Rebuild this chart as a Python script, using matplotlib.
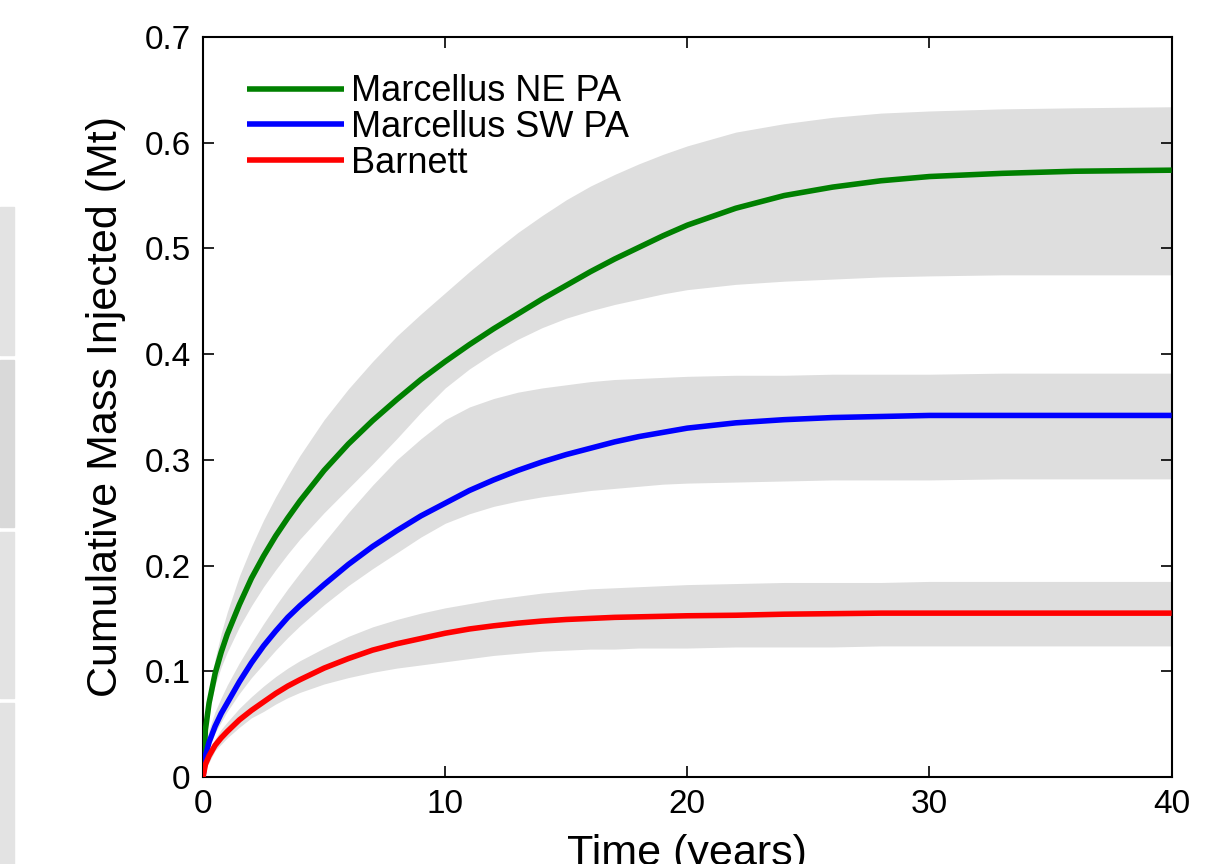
import matplotlib
matplotlib.use("Agg")
import matplotlib.pyplot as plt
from matplotlib.patches import Rectangle

plt.rcParams['font.family'] = ['Liberation Sans', 'DejaVu Sans']

# time axis (years)
t = [0, 0.1, 0.25, 0.5, 0.75, 1, 1.5, 2, 2.5, 3, 3.5, 4,
     5, 6, 7, 8, 9, 10, 11, 12, 13, 14, 15, 16,
     17, 18, 19, 20, 22, 24, 26, 28, 30, 33, 36, 40]

# Marcellus NE PA: mean and range
ne_mid = [0, 0.045, 0.070, 0.098, 0.118, 0.135, 0.163, 0.188, 0.209, 0.228, 0.245, 0.261,
          0.290, 0.315, 0.337, 0.357, 0.376, 0.393, 0.409, 0.424, 0.438, 0.452, 0.465, 0.478,
          0.490, 0.501, 0.512, 0.522, 0.538, 0.550, 0.558, 0.564, 0.568, 0.571, 0.573, 0.574]
ne_hi = [0, 0.050, 0.080, 0.112, 0.136, 0.156, 0.190, 0.218, 0.243, 0.265, 0.285, 0.304,
         0.338, 0.367, 0.393, 0.417, 0.438, 0.458, 0.478, 0.497, 0.515, 0.531, 0.546, 0.559,
         0.570, 0.580, 0.589, 0.597, 0.610, 0.618, 0.624, 0.628, 0.630, 0.632, 0.633, 0.634]
ne_lo = [0, 0.040, 0.062, 0.087, 0.104, 0.118, 0.142, 0.162, 0.180, 0.196, 0.211, 0.225,
         0.250, 0.273, 0.296, 0.320, 0.345, 0.368, 0.386, 0.401, 0.414, 0.425, 0.434, 0.441,
         0.447, 0.452, 0.457, 0.461, 0.466, 0.469, 0.471, 0.473, 0.474, 0.475, 0.475, 0.475]

# Marcellus SW PA
sw_mid = [0, 0.020, 0.033, 0.048, 0.060, 0.070, 0.090, 0.108, 0.124, 0.138, 0.151, 0.162,
          0.182, 0.201, 0.218, 0.233, 0.247, 0.259, 0.271, 0.281, 0.290, 0.298, 0.305, 0.311,
          0.317, 0.322, 0.326, 0.330, 0.335, 0.338, 0.340, 0.341, 0.342, 0.342, 0.342, 0.342]
sw_hi = [0, 0.030, 0.045, 0.062, 0.075, 0.087, 0.108, 0.127, 0.145, 0.162, 0.178, 0.193,
         0.222, 0.250, 0.276, 0.300, 0.320, 0.338, 0.350, 0.358, 0.364, 0.368, 0.371, 0.374,
         0.376, 0.377, 0.378, 0.379, 0.380, 0.380, 0.381, 0.381, 0.381, 0.382, 0.382, 0.382]
sw_lo = [0, 0.017, 0.028, 0.042, 0.052, 0.062, 0.079, 0.094, 0.107, 0.120, 0.132, 0.143,
         0.163, 0.181, 0.197, 0.212, 0.227, 0.240, 0.249, 0.256, 0.261, 0.265, 0.268, 0.271,
         0.273, 0.275, 0.277, 0.278, 0.279, 0.280, 0.281, 0.281, 0.281, 0.282, 0.282, 0.282]

# Barnett
ba_mid = [0, 0.012, 0.020, 0.030, 0.037, 0.043, 0.054, 0.063, 0.071, 0.079, 0.086, 0.092,
          0.103, 0.112, 0.120, 0.126, 0.131, 0.136, 0.140, 0.143, 0.1455, 0.1475, 0.149, 0.150,
          0.151, 0.1515, 0.152, 0.1525, 0.153, 0.154, 0.1545, 0.155, 0.155, 0.155, 0.155, 0.155]
ba_hi = [0, 0.015, 0.025, 0.036, 0.045, 0.052, 0.065, 0.076, 0.086, 0.095, 0.103, 0.110,
         0.122, 0.133, 0.142, 0.149, 0.155, 0.160, 0.164, 0.168, 0.171, 0.174, 0.176, 0.178,
         0.179, 0.180, 0.181, 0.182, 0.183, 0.184, 0.184, 0.184, 0.185, 0.185, 0.185, 0.185]
ba_lo = [0, 0.008, 0.014, 0.025, 0.031, 0.037, 0.047, 0.056, 0.062, 0.069, 0.075, 0.080,
         0.088, 0.094, 0.099, 0.103, 0.106, 0.109, 0.112, 0.115, 0.117, 0.119, 0.120, 0.121,
         0.121, 0.122, 0.122, 0.122, 0.123, 0.123, 0.123, 0.124, 0.124, 0.124, 0.124, 0.124]

names = ['Marcellus NE PA', 'Marcellus SW PA', 'Barnett']
colors = ['#008000', '#0000ff', '#ff0000']

fig = plt.figure(figsize=(12.23, 8.64), dpi=100)
ax = fig.add_axes([0.166, 0.1007, 0.792, 0.8565])

# grey blocks along the left edge of the page
W, H = 1223.0, 864.0
for y0, y1, c in [(207, 355, '#e3e3e3'), (360, 527, '#d9d9d9'),
                  (532, 698, '#e3e3e3'), (703, 864, '#e3e3e3')]:
    fig.patches.append(Rectangle((0, 1 - y1 / H), 14 / W, (y1 - y0) / H,
                                 transform=fig.transFigure, color=c, zorder=0))

# uncertainty bands
for lo, hi in [(ne_lo, ne_hi), (sw_lo, sw_hi), (ba_lo, ba_hi)]:
    ax.fill_between(t, lo, hi, color='#dedede', linewidth=0, zorder=1)

for y, name, c in zip([ne_mid, sw_mid, ba_mid], names, colors):
    ax.plot(t, y, color=c, lw=4.0, label=name, zorder=3,
            solid_capstyle='butt', solid_joinstyle='round')

ax.set_xlim(0, 40)
ax.set_ylim(0, 0.7)
ax.set_xticks([0, 10, 20, 30, 40])
ax.set_yticks([0, 0.1, 0.2, 0.3, 0.4, 0.5, 0.6, 0.7])
ax.set_yticklabels(['0', '0.1', '0.2', '0.3', '0.4', '0.5', '0.6', '0.7'])
ax.tick_params(direction='in', length=8, width=1.2, top=True, right=True,
               labelsize=24, pad=9)
for s in ax.spines.values():
    s.set_linewidth(1.5)

ax.set_ylabel('Cumulative Mass Injected (Mt)', fontsize=31)
ax.yaxis.set_label_coords(-0.08, 0.5)
ax.set_xlabel('Time (years)', fontsize=31, va='top')
ax.xaxis.set_label_coords(0.5, -0.077)

ax.legend(loc='upper left', bbox_to_anchor=(0.03, 0.969), frameon=False,
          fontsize=26, handlelength=2.7, handletextpad=0.2,
          labelspacing=0.02, borderaxespad=0)

fig.savefig('out.png', dpi=100)
